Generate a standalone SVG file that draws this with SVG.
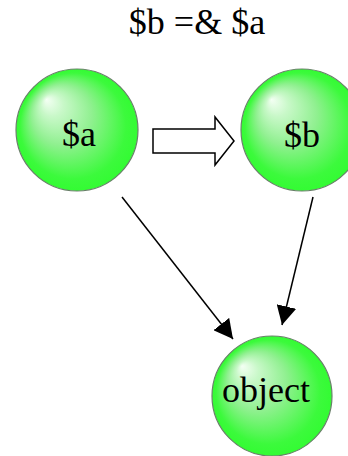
<svg xmlns="http://www.w3.org/2000/svg" width="348" height="456" viewBox="0 0 348 456">
  <defs>
    <radialGradient id="ball" cx="0.56" cy="0.56" r="0.62" fx="0.25" fy="0.25">
      <stop offset="0" stop-color="#f4fff4"/>
      <stop offset="0.15" stop-color="#c8f8c8"/>
      <stop offset="0.4" stop-color="#90f090"/>
      <stop offset="0.7" stop-color="#3cfa3c"/>
      <stop offset="1" stop-color="#22ff22"/>
    </radialGradient>
    <marker id="head" markerUnits="userSpaceOnUse" markerWidth="20" markerHeight="20" refX="19" refY="10" orient="auto">
      <path d="M0,0 L19,10 L0,20 z" fill="#000"/>
    </marker>
    <style>
      .ball { fill: url(#ball); stroke: #6a806a; stroke-width: 1.2; }
      .lbl { font-family: "Liberation Serif", "Times New Roman", serif; font-size: 36px; fill: #000; text-anchor: middle; }
      .edge { stroke: #000; stroke-width: 1.5; fill: none; marker-end: url(#head); }
    </style>
  </defs>
  <rect width="348" height="456" fill="#fff"/>
  <text id="title" class="lbl" x="197" y="34">$b =&amp; $a</text>
  <g id="connectors">
    <line class="edge" x1="122" y1="197" x2="233" y2="339"/>
    <line class="edge" x1="313" y1="197" x2="282" y2="325"/>
    <polygon points="153,129 215,129 215,117 234,141 215,165 215,153 153,153" fill="#fff" stroke="#000" stroke-width="1.5"/>
  </g>
  <g id="node-a">
    <circle class="ball" cx="77" cy="130" r="61"/>
    <text class="lbl" x="79" y="146">$a</text>
  </g>
  <g id="node-b">
    <circle class="ball" cx="302" cy="130" r="61"/>
    <text class="lbl" x="302" y="147">$b</text>
  </g>
  <g id="node-object">
    <circle class="ball" cx="272" cy="396" r="60"/>
    <text class="lbl" x="266" y="402">object</text>
  </g>
</svg>
